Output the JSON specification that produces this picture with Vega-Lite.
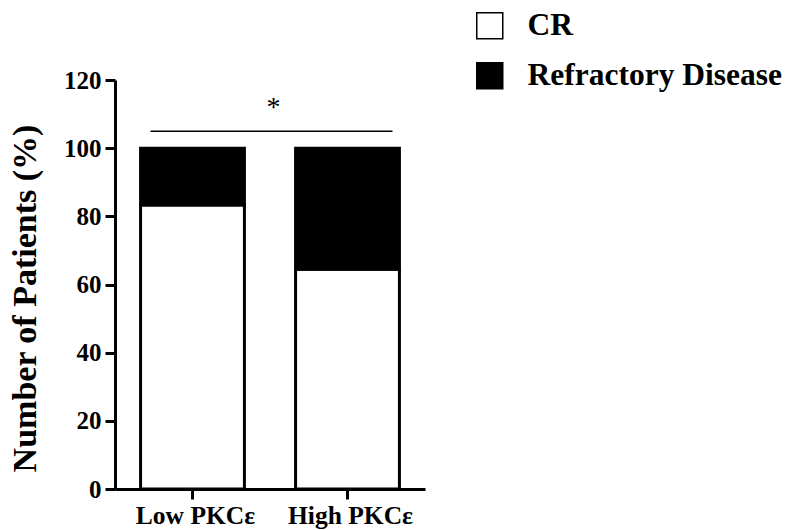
{
  "$schema": "https://vega.github.io/schema/vega-lite/v6.json",
  "width": 310,
  "height": 409,
  "autosize": {"type": "none"},
  "padding": {"left": 115, "top": 80, "right": 363, "bottom": 41},
  "background": "white",
  "config": {
    "view": {"stroke": null},
    "font": "Liberation Serif"
  },
  "datasets": {
    "bars": [
      {"group": "Low PKCε", "outcome": "CR", "value": 83.3},
      {"group": "Low PKCε", "outcome": "Refractory Disease", "value": 16.7},
      {"group": "High PKCε", "outcome": "CR", "value": 64.5},
      {"group": "High PKCε", "outcome": "Refractory Disease", "value": 35.5}
    ],
    "sig": [
      {"from": "Low PKCε", "to": "High PKCε", "y": 105, "ty": 113, "label": "*"}
    ]
  },
  "layer": [
    {
      "data": {"name": "bars"},
      "mark": {"type": "bar", "stroke": "black", "strokeWidth": 3},
      "encoding": {
        "x": {
          "field": "group",
          "type": "nominal",
          "scale": {"domain": ["Low PKCε", "High PKCε"], "paddingInner": 0.33, "paddingOuter": 0.165},
          "axis": {
            "title": null,
            "labelAngle": 0,
            "labelFont": "Liberation Serif",
            "labelFontSize": 25.5,
            "labelFontWeight": "bold",
            "labelColor": "black",
            "labelPadding": 4,
            "labelOffset": 3,
            "domainColor": "black",
            "domainWidth": 3,
            "tickColor": "black",
            "tickWidth": 3,
            "tickSize": 10
          }
        },
        "y": {
          "field": "value",
          "type": "quantitative",
          "stack": "zero",
          "scale": {"domain": [0, 120], "nice": false},
          "axis": {
            "title": "Number of Patients (%)",
            "values": [0, 20, 40, 60, 80, 100, 120],
            "grid": false,
            "titleFont": "Liberation Serif",
            "titleFontSize": 34,
            "titleFontWeight": "bold",
            "titleColor": "black",
            "titleX": -73,
            "titleY": 218,
            "labelFont": "Liberation Serif",
            "labelFontSize": 25,
            "labelFontWeight": "bold",
            "labelColor": "black",
            "labelPadding": 4,
            "domainColor": "black",
            "domainWidth": 3,
            "tickColor": "black",
            "tickWidth": 3,
            "tickSize": 10
          }
        },
        "order": {"field": "outcome", "sort": "ascending"},
        "fill": {
          "field": "outcome",
          "type": "nominal",
          "scale": {"domain": ["CR", "Refractory Disease"], "range": ["white", "black"]},
          "legend": {
            "title": null,
            "orient": "none",
            "legendX": 359,
            "legendY": -70,
            "symbolType": "square",
            "symbolSize": 676,
            "symbolStrokeColor": "black",
            "symbolStrokeWidth": 1.5,
            "labelFont": "Liberation Serif",
            "labelFontSize": 31.5,
            "labelFontWeight": "bold",
            "labelColor": "black",
            "labelOffset": 22,
            "rowPadding": 17,
            "labelLimit": 400
          }
        }
      }
    },
    {
      "data": {"name": "sig"},
      "mark": {"type": "rule", "color": "black", "strokeWidth": 1.5, "xOffset": -42, "x2Offset": 45},
      "encoding": {
        "x": {"field": "from", "type": "nominal"},
        "x2": {"field": "to"},
        "y": {"field": "y", "type": "quantitative"}
      }
    },
    {
      "data": {"name": "sig"},
      "mark": {"type": "text", "font": "Liberation Serif", "fontSize": 28, "color": "black", "baseline": "middle", "xOffset": 81, "dy": 4},
      "encoding": {
        "x": {"field": "from", "type": "nominal"},
        "y": {"field": "ty", "type": "quantitative"},
        "text": {"field": "label"}
      }
    }
  ]
}
